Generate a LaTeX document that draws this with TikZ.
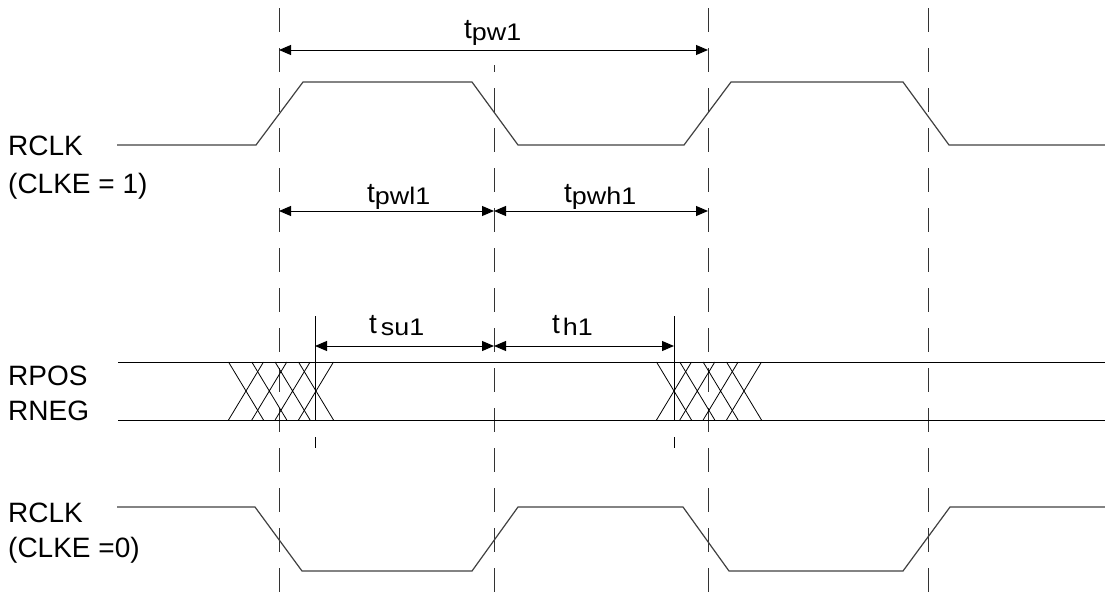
\documentclass[tikz,border=0pt]{standalone}
\usepackage{fontspec}
\setmainfont{Liberation Sans}
\usetikzlibrary{arrows.meta}

\newcommand{\sublab}[1]{\raisebox{-2.5pt}{\scalebox{1.12}[1]{\fontsize{24}{26}\selectfont #1}}}

\begin{document}
\begin{tikzpicture}[x=1pt,y=-1pt,
  sig/.style={line width=1.2pt, black!75},
  bus/.style={line width=1pt, black},
  xing/.style={line width=0.8pt, black},
  guide/.style={line width=0.9pt, black!80, dash pattern=on 24pt off 16pt},
  dim/.style={line width=1pt, {Triangle[length=12pt,width=10pt]}-{Triangle[length=12pt,width=10pt]}},
  lab/.style={inner sep=0pt, anchor=base west, font=\fontsize{28}{34}\selectfont}]

\useasboundingbox (0,0) rectangle (1105,592);

 % guide lines
 \draw[guide](279,8)--(279,592);
 \draw[guide, dash phase=17pt](494,65)--(494,592);
 \draw[guide](708,8)--(708,592);
 \draw[guide](928,8)--(928,592);

 % RCLK, CLKE = 1
 \draw[sig](117,145)--(256,145)--(303,82)--(472,82)--(518,145)--(684,145)--(731,82)--(903,82)--(949,145)--(1105,145);

 % RPOS / RNEG
 \draw[bus](118,362)--(1105,362);
 \draw[bus](118,420)--(1105,420);

 \draw[xing](228.5,362)--(263.5,420) (228.5,420)--(263.5,362);
 \draw[xing](251.8,362)--(286.8,420) (251.8,420)--(286.8,362);
 \draw[xing](275.1,362)--(310.1,420) (275.1,420)--(310.1,362);
 \draw[xing](298.5,362)--(333.5,420) (298.5,420)--(333.5,362);

 \draw[xing](656.5,362)--(691.5,420) (656.5,420)--(691.5,362);
 \draw[xing](679.8,362)--(714.8,420) (679.8,420)--(714.8,362);
 \draw[xing](703.1,362)--(738.1,420) (703.1,420)--(738.1,362);
 \draw[xing](726.5,362)--(761.5,420) (726.5,420)--(761.5,362);

 \draw[bus, dash pattern=on 104pt off 17pt on 11pt off 100pt](315,316)--(315,448);
 \draw[bus, dash pattern=on 104pt off 17pt on 11pt off 100pt](674,316)--(674,448);

 % RCLK, CLKE = 0
 \draw[sig](117,507)--(255,507)--(302,571)--(472,571)--(518,507)--(683,507)--(729,571)--(903,571)--(950,507)--(1105,507);

 % dimension arrows
 \coordinate (pw-a) at (279,50);
 \coordinate (pw-b) at (708,50);
 \coordinate (pwl-a) at (279,211);
 \coordinate (pwl-b) at (494,211);
 \coordinate (pwh-b) at (708,211);
 \coordinate (su-a) at (315,346);
 \coordinate (su-b) at (494,346);
 \coordinate (h-b) at (674,346);

 \draw[dim](pw-a)--(pw-b);
 \draw[dim](pwl-a)--(pwl-b);
 \draw[dim](pwl-b)--(pwh-b);
 \draw[dim](su-a)--(su-b);
 \draw[dim](su-b)--(h-b);

 \node[lab] at (464,38) (tpw) {t\sublab{pw1}};
 \node[lab] at (367,202) (tpwl) {t\sublab{pwl1}};
 \node[lab] at (564,202) (tpwh) {t\sublab{pwh1}};
 \node[lab] at (369,333) (tsu) {t\hspace{4pt}\sublab{su1}};
 \node[lab] at (552,333) (th) {t\hspace{3pt}\sublab{h1}};

 % signal names
 \node[lab] at (8,155) (rclka) {RCLK};
 \node[lab] at (8,193) (clkea) {(CLKE = 1)};
 \node[lab] at (8,385) (rpos) {RPOS};
 \node[lab] at (8,420) (rneg) {RNEG};
 \node[lab] at (8,522) (rclkb) {RCLK};
 \node[lab] at (8,557) (clkeb) {(CLKE =0)};
\end{tikzpicture}
\end{document}
